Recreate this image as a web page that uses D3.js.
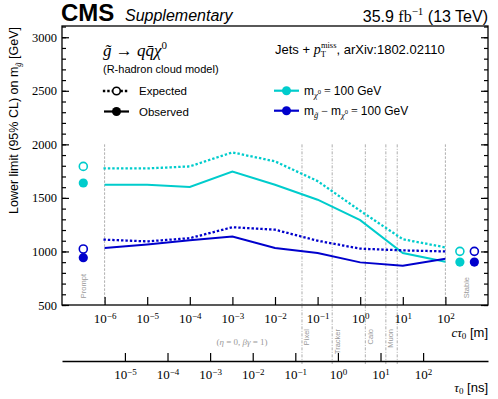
<!DOCTYPE html>
<html>
<head>
<meta charset="utf-8">
<script src="https://cdn.jsdelivr.net/npm/d3@7"></script>
<style>
  body { margin: 0; background: #fff; }
  svg { display: block; font-family: "Liberation Sans", Arial, sans-serif; }
</style>
</head>
<body>
<div id="chart"></div>
<script>
// values
const ctau = [1e-6, 1e-5, 1e-4, 1e-3, 1e-2, 1e-1, 1, 10, 100];
const cyanObs = [1623, 1623, 1602, 1747, 1623, 1483, 1292, 986, 904];
const cyanExp = [1775, 1775, 1794, 1925, 1841, 1657, 1380, 1114, 1038];
const blueObs = [1033, 1065, 1105, 1140, 1032, 986, 898, 867, 932];
const blueExp = [1110, 1094, 1124, 1226, 1203, 1100, 1026, 1010, 1000];

// prompt / stable points: [expected, observed]
const promptCyan = [1794, 1639];
const promptBlue = [1023, 942];
const stableCyan = [1001, 901];
const stableBlue = [1001, 901];

const yTicks = [500, 1000, 1500, 2000, 2500, 3000];
const ctauTicks = [-6, -5, -4, -3, -2, -1, 0, 1, 2];
const tauTicks = [-5, -4, -3, -2, -1, 0, 1, 2];
const detectors = [
  {name: "Pixel", ctau: 0.043},
  {name: "Tracker", ctau: 0.22},
  {name: "Calo", ctau: 1.32},
  {name: "Muon", ctau: 4.0},
  {name: "", ctau: 7.4}
];

const CYAN = "#00cccc", BLUE = "#0000cc", GREY = "#999";
const C_LIGHT = 0.299792458; // m per ns
const SERIF = "Liberation Serif, serif";

const W = 498, H = 399;
const pL = 62, pR = 488, pT = 26, pB = 305;

var svg = d3.select("#chart").append("svg")
  .attr("width", W).attr("height", H);

var x = d3.scaleLog().domain([1e-7, 1e3]).range([pL, pR]);
var xTau = d3.scaleLog().domain([1e-7 / C_LIGHT, 1e3 / C_LIGHT]).range([pL, pR]);
var y = d3.scaleLinear().domain([500, 3105]).range([pB, pT]);

// power-of-ten label helper
function pow10(sel) {
  sel.each(function(d) {
    var t = d3.select(this).text("");
    var e = Math.round(Math.log10(d));
    t.append("tspan").text("10");
    t.append("tspan").attr("dy", "-0.42em").attr("font-size", "9px")
      .text(e < 0 ? "\u2212" + (-e) : e);
  });
}

// vertical marker lines
function vline(xpos, y1, y2, dash) {
  svg.append("line")
    .attr("x1", xpos).attr("x2", xpos).attr("y1", y1).attr("y2", y2)
    .attr("stroke", GREY).attr("stroke-width", 0.8)
    .attr("stroke-dasharray", dash);
}
vline(x(1e-6), y(2000), pB, "2.5,1.5");
vline(x(1e2), y(2000), pB, "2.5,1.5");
detectors.forEach(function(d) {
  vline(x(d.ctau), y(2000), 364, "3,1.5,1,1.5");
  if (d.name) {
    svg.append("text")
      .attr("transform", "translate(" + (x(d.ctau) + 5) + ",329) rotate(-90)")
      .attr("text-anchor", "end").attr("dominant-baseline", "central")
      .attr("font-size", "7.5px").attr("fill", GREY).text(d.name);
  }
});
svg.append("text")
  .attr("transform", "translate(" + x(Math.pow(10, -6.5)) + ",274) rotate(-90)")
  .attr("text-anchor", "end").attr("dominant-baseline", "central")
  .attr("font-size", "7.5px").attr("fill", GREY).text("Prompt");
svg.append("text")
  .attr("transform", "translate(466,277) rotate(-90)")
  .attr("text-anchor", "end").attr("dominant-baseline", "central")
  .attr("font-size", "7.5px").attr("fill", GREY).text("Stable");

// curves
var line = d3.line().x(d => x(d[0])).y(d => y(d[1]));
function curve(vals, color, dotted) {
  svg.append("path")
    .datum(ctau.map((c, i) => [c, vals[i]]))
    .attr("d", line)
    .attr("fill", "none").attr("stroke", color)
    .attr("stroke-width", dotted ? 2.3 : 2)
    .attr("stroke-linecap", dotted ? "square" : "butt")
    .attr("stroke-dasharray", dotted ? "0.1,4.3" : null);
}
curve(cyanExp, CYAN, true);
curve(cyanObs, CYAN, false);
curve(blueExp, BLUE, true);
curve(blueObs, BLUE, false);

function pointPair(xv, vals, color) {
  svg.append("circle").attr("cx", x(xv)).attr("cy", y(vals[0])).attr("r", 4)
    .attr("fill", "#fff").attr("stroke", color).attr("stroke-width", 1.6);
  svg.append("circle").attr("cx", x(xv)).attr("cy", y(vals[1])).attr("r", 4.6)
    .attr("fill", color);
}
pointPair(Math.pow(10, -6.5), promptCyan, CYAN);
pointPair(Math.pow(10, -6.5), promptBlue, BLUE);
pointPair(Math.pow(10, 2.34), stableCyan, CYAN);
pointPair(Math.pow(10, 2.68), stableBlue, BLUE);

// frame
svg.append("rect").attr("x", pL).attr("y", pT)
  .attr("width", pR - pL).attr("height", pB - pT)
  .attr("fill", "none").attr("stroke", "#000").attr("stroke-width", 1.3);

// y axes
var minor = d3.range(500, 3101, 100);
var yl = svg.append("g").attr("transform", "translate(" + pL + ",0)")
  .call(d3.axisLeft(y).tickValues(minor).tickSize(-4).tickFormat(""));
yl.select(".domain").remove();
var ylMaj = svg.append("g").attr("transform", "translate(" + pL + ",0)")
  .call(d3.axisLeft(y).tickValues(yTicks).tickSize(-7).tickPadding(5).tickFormat(d3.format("d")));
ylMaj.select(".domain").remove();
ylMaj.selectAll("text").attr("font-family", SERIF).attr("font-size", "12.5px");
var yr = svg.append("g").attr("transform", "translate(" + pR + ",0)")
  .call(d3.axisRight(y).tickValues(minor).tickSize(-4).tickFormat(""));
yr.select(".domain").remove();
var yrMaj = svg.append("g").attr("transform", "translate(" + pR + ",0)")
  .call(d3.axisRight(y).tickValues(yTicks).tickSize(-7).tickFormat(""));
yrMaj.select(".domain").remove();
svg.selectAll(".tick line").attr("stroke-width", 1.2);

// ctau axis
var xa = svg.append("g").attr("transform", "translate(0," + pB + ")")
  .call(d3.axisBottom(x).tickValues(ctauTicks.map(e => Math.pow(10, e))).tickSize(-8).tickPadding(9));
xa.select(".domain").remove();
xa.selectAll(".tick line").attr("stroke-width", 1.2);
xa.selectAll("text").attr("font-family", SERIF).attr("font-size", "13px").call(pow10);

// tau axis
var ta = svg.append("g").attr("transform", "translate(0,361)")
  .call(d3.axisBottom(xTau).tickValues(tauTicks.map(e => Math.pow(10, e))).tickSize(-8).tickPadding(9).tickSizeOuter(0));
ta.select(".domain").attr("stroke-width", 1.3);
ta.selectAll(".tick line").attr("stroke-width", 1.2);
ta.selectAll("text").attr("font-family", SERIF).attr("font-size", "13px").call(pow10);

// axis titles
var cl = svg.append("text").attr("x", pR).attr("y", 337).attr("text-anchor", "end").attr("font-size", "13px");
cl.append("tspan").attr("font-family", SERIF).attr("font-style", "italic").text("c\u03c4");
cl.append("tspan").attr("font-family", SERIF).attr("font-size", "9px").attr("dy", 2).text("0");
cl.append("tspan").attr("dy", -2).text(" [m]");
var tl = svg.append("text").attr("x", pR).attr("y", 392).attr("text-anchor", "end").attr("font-size", "13px");
tl.append("tspan").attr("font-family", SERIF).attr("font-style", "italic").text("\u03c4");
tl.append("tspan").attr("font-family", SERIF).attr("font-size", "9px").attr("dy", 2).text("0");
tl.append("tspan").attr("dy", -2).text(" [ns]");
var eta = svg.append("text").attr("x", 242).attr("y", 345).attr("text-anchor", "middle")
  .attr("font-family", SERIF).attr("font-size", "9px").attr("fill", GREY);
eta.append("tspan").text("(");
eta.append("tspan").attr("font-style", "italic").text("\u03b7");
eta.append("tspan").text(" = 0, ");
eta.append("tspan").attr("font-style", "italic").text("\u03b2\u03b3");
eta.append("tspan").text(" = 1)");

var yt = svg.append("text").attr("transform", "translate(18,27) rotate(-90)")
  .attr("text-anchor", "end").attr("font-size", "12.5px");
yt.append("tspan").text("Lower limit (95% CL) on m");
yt.append("tspan").attr("font-family", SERIF).attr("font-style", "italic")
  .attr("font-size", "8.5px").attr("dy", 3).text("g\u0303");
yt.append("tspan").attr("dy", -3).text(" [GeV]");

// header
svg.append("text").attr("x", 61).attr("y", 21).attr("font-size", "24px").attr("font-weight", "bold").text("CMS");
svg.append("text").attr("x", 125).attr("y", 21).attr("font-size", "16px").attr("font-style", "italic").text("Supplementary");
var lumi = svg.append("text").attr("x", pR).attr("y", 22).attr("text-anchor", "end").attr("font-size", "16px");
lumi.append("tspan").text("35.9 ");
lumi.append("tspan").attr("font-family", SERIF).text("fb");
lumi.append("tspan").attr("font-family", SERIF).attr("font-size", "11px").attr("dy", -7).text("\u22121");
lumi.append("tspan").attr("dy", 7).text(" (13 TeV)");

// legend block
var proc = svg.append("text").attr("x", 103).attr("y", 56)
  .attr("font-family", SERIF).attr("font-style", "italic").attr("font-size", "17px");
proc.append("tspan").text("g\u0303 \u2192 qq\u0304\u03c7");
proc.append("tspan").attr("font-style", "normal").attr("font-size", "11px").attr("dy", -7).text("0");
svg.append("text").attr("x", 103).attr("y", 73).attr("font-size", "11px").text("(R-hadron cloud model)");

var jets = svg.append("text").attr("x", 275).attr("y", 54).attr("font-size", "13px");
jets.append("tspan").text("Jets + ");
jets.append("tspan").attr("font-family", SERIF).attr("font-style", "italic").attr("font-size", "14px").text("p");
jets.append("tspan").attr("font-family", SERIF).attr("font-size", "8.5px").attr("dy", 3).text("T");
jets.append("tspan").attr("font-family", SERIF).attr("font-size", "8.5px").attr("dx", -5).attr("dy", -9).text("miss");
jets.append("tspan").attr("dy", 6).text(", arXiv:1802.02110");

function legendEntry(x0, yy, color, dotted, open) {
  svg.append("line").attr("x1", x0).attr("x2", x0 + 25).attr("y1", yy).attr("y2", yy)
    .attr("stroke", color).attr("stroke-width", dotted ? 2.3 : 2.2)
    .attr("stroke-linecap", dotted ? "square" : "butt")
    .attr("stroke-dasharray", dotted ? "0.1,4.3" : null);
  if (open) {
    svg.append("circle").attr("cx", x0 + 12.5).attr("cy", yy).attr("r", 3.8)
      .attr("fill", "#fff").attr("stroke", color).attr("stroke-width", 1.6);
  } else {
    svg.append("circle").attr("cx", x0 + 12.5).attr("cy", yy).attr("r", 4.5).attr("fill", color);
  }
}
legendEntry(104, 91, "#000", true, true);
legendEntry(104, 111.5, "#000", false, false);
legendEntry(274, 90.7, CYAN, false, false);
legendEntry(274, 110.7, BLUE, false, false);
svg.append("text").attr("x", 139).attr("y", 95).attr("font-size", "11.5px").text("Expected");
svg.append("text").attr("x", 139).attr("y", 115.5).attr("font-size", "11.5px").text("Observed");

var l1 = svg.append("text").attr("x", 304).attr("y", 94.5).attr("font-size", "12px");
l1.append("tspan").text("m");
l1.append("tspan").attr("font-family", SERIF).attr("font-style", "italic").attr("font-size", "8.5px").attr("dy", 3).text("\u03c7");
l1.append("tspan").attr("font-family", SERIF).attr("font-size", "6.5px").attr("dy", -4).text("0");
l1.append("tspan").attr("font-family", SERIF).attr("dy", 1).text(" = ");
l1.append("tspan").text("100 GeV");

var l2 = svg.append("text").attr("x", 304).attr("y", 114.5).attr("font-size", "12px");
l2.append("tspan").text("m");
l2.append("tspan").attr("font-family", SERIF).attr("font-style", "italic").attr("font-size", "8.5px").attr("dy", 3).text("g\u0303");
l2.append("tspan").attr("font-family", SERIF).attr("dy", -3).text(" \u2212 ");
l2.append("tspan").text("m");
l2.append("tspan").attr("font-family", SERIF).attr("font-style", "italic").attr("font-size", "8.5px").attr("dy", 3).text("\u03c7");
l2.append("tspan").attr("font-family", SERIF).attr("font-size", "6.5px").attr("dy", -4).text("0");
l2.append("tspan").attr("font-family", SERIF).attr("dy", 1).text(" = ");
l2.append("tspan").text("100 GeV");
</script>
</body>
</html>
